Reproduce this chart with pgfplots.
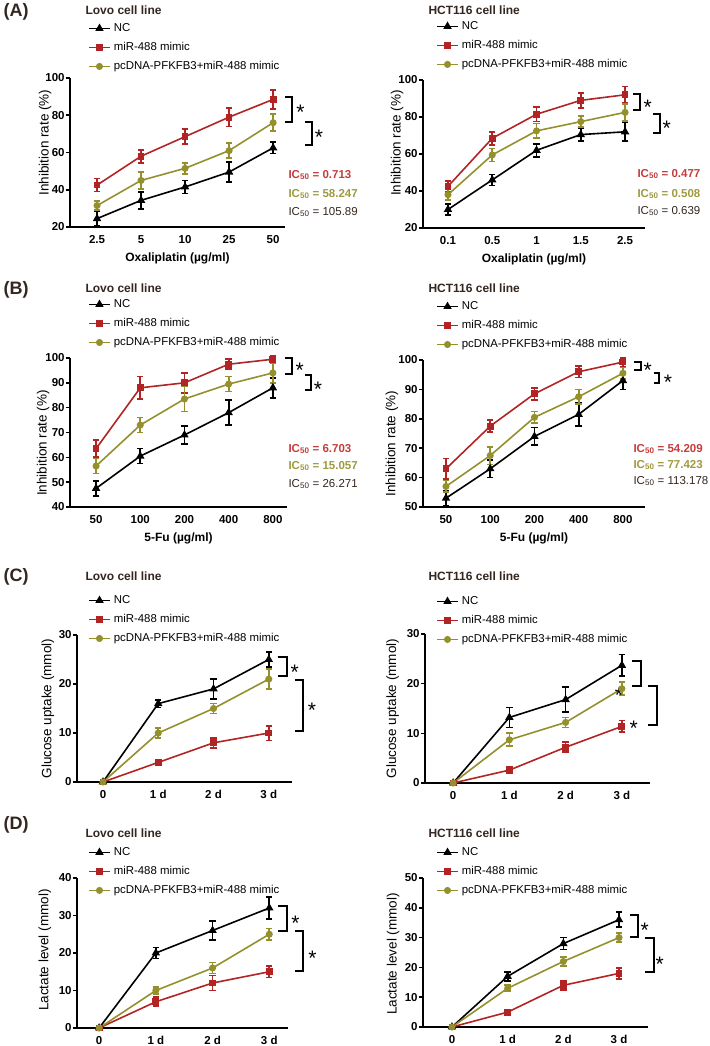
\documentclass[border=0pt]{standalone}
\usepackage{fontspec}
\setmainfont{Liberation Sans}
\usepackage{pgfplots}
\pgfplotsset{compat=1.18}
\definecolor{gpred}{RGB}{178,36,36}
\definecolor{gpolive}{RGB}{148,144,44}
\definecolor{txtred}{RGB}{196,60,60}
\definecolor{txtolive}{RGB}{158,154,62}
\definecolor{ttl}{RGB}{52,38,32}

\tikzset{
  brk/.style={line width=1.9pt, black},
  star/.style={anchor=base, yshift=-12pt, font=\fontsize{21}{21}\selectfont},
}
\pgfplotsset{
  eb/.style={error bars/.cd, y dir=both, y explicit,
    error bar style={line width=1.7pt, solid},
    error mark options={rotate=90, mark size=3.2pt, line width=1.7pt}},
  nc/.style={black, line width=1.6pt, mark=triangle*, mark size=3.3pt, eb},
  mir/.style={gpred, line width=1.6pt, mark=square*, mark size=2.6pt, eb},
  pc/.style={gpolive, line width=1.6pt, mark=*, mark size=2.7pt, eb},
  ylab/.style 2 args={every axis y label/.append style={at={(axis description cs:#1,#2)}, anchor=center}},
  gp/.style={
    scale only axis, clip=false, anchor=south west,
    axis x line=bottom, axis y line=left,
    axis line style={line width=1.9pt,-},
    every tick/.style={black,line width=1.6pt},
    xtick style={draw=none},
    tick align=outside, major tick length=4pt,
    xtick={0,1,2,3,4},
    tick label style={font=\fontsize{11.5}{13}\selectfont\bfseries},
    xticklabel style={yshift=-1pt},
    yticklabel style={inner xsep=1.2pt},
    /pgf/number format/assume math mode=true,
    ylabel style={font=\fontsize{13.5}{15}\selectfont},
    xlabel style={font=\fontsize{12}{14}\selectfont\bfseries, yshift=-2.5pt},
    legend cell align=left,
    legend style={draw=none, fill=none, anchor=north west, inner sep=0pt,
      font=\fontsize{11.4}{13}\selectfont,
      nodes={inner sep=0pt, text height=8pt, text depth=2.5pt},
      row sep=8.5pt, column sep=3pt},
    legend image code/.code={
      \draw[mark repeat=2,mark phase=2] plot coordinates {(0pt,0pt) (10.5pt,0pt) (21pt,0pt)};},
  },
}
\newcommand{\ttlfont}{\fontsize{12}{12}\selectfont\bfseries\color{ttl}}
\newcommand{\panfont}{\fontsize{18}{18}\selectfont\bfseries\color{ttl}}
\newcommand{\icfont}{\fontsize{11.5}{12}\selectfont}

\begin{document}
\begin{tikzpicture}
\useasboundingbox (0,0) rectangle (709pt,-1046pt);

% ---------------- (A) left
\begin{axis}[gp, at={(70pt,-227pt)}, width=215pt, height=149pt,
  xmin=-0.614, xmax=4.27, ymin=20, ymax=100, ytick={20,40,60,80,100},
  xticklabels={2.5,5,10,25,50}, xlabel={Oxaliplatin (µg/ml)}, ylabel={Inhibition rate (\%)},
  ylab={-0.116}{0.567},
  legend style={at={(0.0837,1.369)}}]
\addplot[nc] coordinates {(0,24.5) +- (0,4) (1,34.3) +- (0,4.5) (2,41.5) +- (0,3.5) (3,49.5) +- (0,5.5) (4,62.5) +- (0,3)};
\addplot[mir] coordinates {(0,42.5) +- (0,3.5) (1,58) +- (0,3.5) (2,68.5) +- (0,4) (3,79) +- (0,5) (4,88.5) +- (0,5)};
\addplot[pc] coordinates {(0,31.5) +- (0,2.5) (1,45) +- (0,4.5) (2,51.5) +- (0,3) (3,61) +- (0,4) (4,76) +- (0,4.5)};
\legend{NC, miR-488 mimic, pcDNA-PFKFB3+miR-488 mimic}
\draw[brk] (axis cs:4.27,89.8) -- (axis cs:4.43,89.8) -- (axis cs:4.43,76.4) -- (axis cs:4.27,76.4);
\node[star] at (axis cs:4.62,84) {*};
\draw[brk] (axis cs:4.73,76.4) -- (axis cs:4.89,76.4) -- (axis cs:4.89,64) -- (axis cs:4.73,64);
\node[star] at (axis cs:5.04,70.5) {*};
\end{axis}

% ---------------- (A) right
\begin{axis}[gp, at={(423pt,-228pt)}, width=222pt, height=148pt,
  xmin=-0.564, xmax=4.45, ymin=20, ymax=100, ytick={20,40,60,80,100},
  xticklabels={0.1,0.5,1,1.5,2.5}, xlabel={Oxaliplatin (µg/ml)}, ylabel={Inhibition rate (\%)},
  ylab={-0.117}{0.574},
  legend style={at={(0.0586,1.399)}}]
\addplot[nc] coordinates {(0,30) +- (0,3) (1,46) +- (0,3) (2,62) +- (0,3.5) (3,70.5) +- (0,3.5) (4,72) +- (0,5)};
\addplot[mir] coordinates {(0,42.5) +- (0,3) (1,68.5) +- (0,3.5) (2,81.5) +- (0,4) (3,89) +- (0,4) (4,92) +- (0,4.5)};
\addplot[pc] coordinates {(0,38) +- (0,3) (1,59.5) +- (0,3.5) (2,72.5) +- (0,4) (3,77.5) +- (0,3) (4,82.5) +- (0,4.5)};
\legend{NC, miR-488 mimic, pcDNA-PFKFB3+miR-488 mimic}
\draw[brk] (axis cs:4.18,92.4) -- (axis cs:4.33,92.4) -- (axis cs:4.33,83.8) -- (axis cs:4.18,83.8);
\node[star] at (axis cs:4.51,88) {*};
\draw[brk] (axis cs:4.63,81.6) -- (axis cs:4.79,81.6) -- (axis cs:4.79,71.4) -- (axis cs:4.63,71.4);
\node[star] at (axis cs:4.94,76.5) {*};
\end{axis}

% ---------------- (B) left
\begin{axis}[gp, at={(70pt,-507pt)}, width=217pt, height=149pt,
  xmin=-0.59, xmax=4.32, ymin=40, ymax=100, ytick={40,50,...,100},
  xticklabels={50,100,200,400,800}, xlabel={5-Fu (µg/ml)}, ylabel={Inhibition rate (\%)},
  ylab={-0.124}{0.43},
  legend style={at={(0.0829,1.396)}}]
\addplot[nc] coordinates {(0,47.5) +- (0,3) (1,60.5) +- (0,3) (2,69) +- (0,3.5) (3,78) +- (0,5) (4,88) +- (0,4)};
\addplot[mir] coordinates {(0,63.5) +- (0,3.5) (1,88) +- (0,4.5) (2,90) +- (0,4) (3,97.5) +- (0,2) (4,99.5) +- (0,1.5)};
\addplot[pc] coordinates {(0,56.5) +- (0,3) (1,73) +- (0,3) (2,83.5) +- (0,5) (3,89.5) +- (0,3) (4,94) +- (0,4)};
\legend{NC, miR-488 mimic, pcDNA-PFKFB3+miR-488 mimic}
\draw[brk] (axis cs:4.27,100.1) -- (axis cs:4.43,100.1) -- (axis cs:4.43,93.7) -- (axis cs:4.27,93.7);
\node[star] at (axis cs:4.61,96.8) {*};
\draw[brk] (axis cs:4.72,93.3) -- (axis cs:4.86,93.3) -- (axis cs:4.86,87) -- (axis cs:4.72,87);
\node[star] at (axis cs:5.02,89.5) {*};
\end{axis}

% ---------------- (B) right
\begin{axis}[gp, at={(423pt,-507pt)}, width=222pt, height=147pt,
  xmin=-0.52, xmax=4.5, ymin=50, ymax=100, ytick={50,60,...,100},
  xticklabels={50,100,200,400,800}, xlabel={5-Fu (µg/ml)}, ylabel={Inhibition rate (\%)},
  ylab={-0.14}{0.43},
  legend style={at={(0.0586,1.401)}}]
\addplot[nc] coordinates {(0,53) +- (0,2.5) (1,63) +- (0,3) (2,74) +- (0,3) (3,81.5) +- (0,4) (4,93) +- (0,3)};
\addplot[mir] coordinates {(0,63) +- (0,3.5) (1,77.5) +- (0,2) (2,88.5) +- (0,2) (3,96) +- (0,2) (4,99.3) +- (0,1.5)};
\addplot[pc] coordinates {(0,57) +- (0,2) (1,67.5) +- (0,3) (2,80.5) +- (0,2) (3,87.5) +- (0,2.5) (4,95.5) +- (0,2)};
\legend{NC, miR-488 mimic, pcDNA-PFKFB3+miR-488 mimic}
\draw[brk] (axis cs:4.25,99.4) -- (axis cs:4.41,99.4) -- (axis cs:4.41,96.6) -- (axis cs:4.25,96.6);
\node[star] at (axis cs:4.56,98.3) {*};
\draw[brk] (axis cs:4.70,95.5) -- (axis cs:4.81,95.5) -- (axis cs:4.81,92.3) -- (axis cs:4.70,92.3);
\node[star] at (axis cs:5.02,93.9) {*};
\end{axis}

% ---------------- (C) left
\begin{axis}[gp, at={(77pt,-782pt)}, width=215pt, height=147pt,
  xmin=-0.47, xmax=3.42, ymin=0, ymax=30, ytick={0,10,20,30},
  xticklabels={0,1 d,2 d,3 d}, ylabel={Glucose uptake (mmol)},
  ylab={-0.135}{0.5},
  legend style={at={(0.0512,1.272)}}]
\addplot[nc] coordinates {(0,0) (1,16) +- (0,0.8) (2,19) +- (0,2) (3,25) +- (0,1.5)};
\addplot[mir] coordinates {(0,0) (1,4) +- (0,0.5) (2,8) +- (0,1) (3,10) +- (0,1.5)};
\addplot[pc] coordinates {(0,0) (1,10) +- (0,1) (2,15) +- (0,1) (3,21) +- (0,2)};
\legend{NC, miR-488 mimic, pcDNA-PFKFB3+miR-488 mimic}
\draw[brk] (axis cs:3.16,25.6) -- (axis cs:3.33,25.6) -- (axis cs:3.33,21.6) -- (axis cs:3.16,21.6);
\node[star] at (axis cs:3.47,23.3) {*};
\draw[brk] (axis cs:3.47,20.9) -- (axis cs:3.62,20.9) -- (axis cs:3.62,10.4) -- (axis cs:3.47,10.4);
\node[star] at (axis cs:3.78,15.7) {*};
\end{axis}

% ---------------- (C) right
\begin{axis}[gp, at={(425pt,-783pt)}, width=225pt, height=149pt,
  xmin=-0.5, xmax=3.5, ymin=0, ymax=30, ytick={0,10,20,30},
  xticklabels={0,1 d,2 d,3 d}, ylabel={Glucose uptake (mmol)},
  ylab={-0.144}{0.5},
  legend style={at={(0.0489,1.255)}}]
\addplot[nc] coordinates {(0,0) (1,13.2) +- (0,2) (2,16.8) +- (0,2.5) (3,23.7) +- (0,2.2)};
\addplot[mir] coordinates {(0,0) (1,2.6) +- (0,0.7) (2,7.2) +- (0,1) (3,11.4) +- (0,1.2)};
\addplot[pc] coordinates {(0,0) (1,8.7) +- (0,1.3) (2,12.2) +- (0,1) (3,19) +- (0,1.3)};
\legend{NC, miR-488 mimic, pcDNA-PFKFB3+miR-488 mimic}
\draw[brk] (axis cs:3.18,24.5) -- (axis cs:3.34,24.5) -- (axis cs:3.34,19.6) -- (axis cs:3.18,19.6);
\node[star] at (axis cs:2.95,18.7) {*};
\draw[brk] (axis cs:3.46,19.6) -- (axis cs:3.62,19.6) -- (axis cs:3.62,11.7) -- (axis cs:3.46,11.7);
\node[star] at (axis cs:3.21,11.9) {*};
\end{axis}

% ---------------- (D) left
\begin{axis}[gp, at={(77pt,-1028pt)}, width=211pt, height=150pt,
  xmin=-0.39, xmax=3.33, ymin=0, ymax=40, ytick={0,10,20,30,40},
  xticklabels={0,1 d,2 d,3 d}, ylabel={Lactate level (mmol)},
  ylab={-0.152}{0.52},
  legend style={at={(0.0521,1.207)}}]
\addplot[nc] coordinates {(0,0) (1,20) +- (0,1.5) (2,26) +- (0,2.5) (3,32) +- (0,3)};
\addplot[mir] coordinates {(0,0) (1,7) +- (0,1.2) (2,12) +- (0,2) (3,15) +- (0,1.5)};
\addplot[pc] coordinates {(0,0) (1,10) +- (0,1) (2,16) +- (0,1.5) (3,25) +- (0,1.5)};
\legend{NC, miR-488 mimic, pcDNA-PFKFB3+miR-488 mimic}
\draw[brk] (axis cs:3.16,32.5) -- (axis cs:3.32,32.5) -- (axis cs:3.32,25.9) -- (axis cs:3.16,25.9);
\node[star] at (axis cs:3.46,29.3) {*};
\draw[brk] (axis cs:3.46,25.9) -- (axis cs:3.60,25.9) -- (axis cs:3.60,15.3) -- (axis cs:3.46,15.3);
\node[star] at (axis cs:3.76,20) {*};
\end{axis}

% ---------------- (D) right
\begin{axis}[gp, at={(423pt,-1027pt)}, width=225pt, height=149pt,
  xmin=-0.52, xmax=3.52, ymin=0, ymax=50, ytick={0,10,20,30,40,50},
  xticklabels={0,1 d,2 d,3 d}, ylabel={Lactate level (mmol)},
  ylab={-0.133}{0.49},
  legend style={at={(0.0578,1.208)}}]
\addplot[nc] coordinates {(0,0) (1,17) +- (0,1.5) (2,28) +- (0,2) (3,36) +- (0,2.5)};
\addplot[mir] coordinates {(0,0) (1,5) +- (0,0.8) (2,14) +- (0,1.5) (3,18) +- (0,1.8)};
\addplot[pc] coordinates {(0,0) (1,13) +- (0,1) (2,22) +- (0,1.5) (3,30) +- (0,1.5)};
\legend{NC, miR-488 mimic, pcDNA-PFKFB3+miR-488 mimic}
\draw[brk] (axis cs:3.20,37.6) -- (axis cs:3.34,37.6) -- (axis cs:3.34,30.3) -- (axis cs:3.20,30.3);
\node[star] at (axis cs:3.46,33.9) {*};
\draw[brk] (axis cs:3.46,29.8) -- (axis cs:3.63,29.8) -- (axis cs:3.63,18.4) -- (axis cs:3.46,18.4);
\node[star] at (axis cs:3.73,22.5) {*};
\end{axis}

% ---------------- panel letters and titles
\node[anchor=base west, font=\panfont] at (0pt,-16.5pt) {(A)};
\node[anchor=base west, font=\panfont] at (0pt,-294.5pt) {(B)};
\node[anchor=base west, font=\panfont] at (0pt,-581.5pt) {(C)};
\node[anchor=base west, font=\panfont] at (0pt,-829.5pt) {(D)};
\node[anchor=base west, font=\ttlfont] at (82pt,-14.3pt) {Lovo cell line};
\node[anchor=base west, font=\ttlfont] at (425pt,-14.3pt) {HCT116 cell line};
\node[anchor=base west, font=\ttlfont] at (82pt,-292.3pt) {Lovo cell line};
\node[anchor=base west, font=\ttlfont] at (425pt,-292.3pt) {HCT116 cell line};
\node[anchor=base west, font=\ttlfont] at (82pt,-580.3pt) {Lovo cell line};
\node[anchor=base west, font=\ttlfont] at (425pt,-580.3pt) {HCT116 cell line};
\node[anchor=base west, font=\ttlfont] at (82pt,-837.3pt) {Lovo cell line};
\node[anchor=base west, font=\ttlfont] at (425pt,-837.3pt) {HCT116 cell line};

% ---------------- IC50 annotations
\node[anchor=base west, font=\icfont\bfseries, text=txtred] at (285pt,-178pt) {IC\textsubscript{50} = 0.713};
\node[anchor=base west, font=\icfont\bfseries, text=txtolive] at (285pt,-197pt) {IC\textsubscript{50} = 58.247};
\node[anchor=base west, font=\icfont, text=ttl] at (285pt,-215pt) {IC\textsubscript{50} = 105.89};
\node[anchor=base west, font=\icfont\bfseries, text=txtred] at (634pt,-177pt) {IC\textsubscript{50} = 0.477};
\node[anchor=base west, font=\icfont\bfseries, text=txtolive] at (634pt,-197pt) {IC\textsubscript{50} = 0.508};
\node[anchor=base west, font=\icfont, text=ttl] at (634pt,-214pt) {IC\textsubscript{50} = 0.639};
\node[anchor=base west, font=\icfont\bfseries, text=txtred] at (285pt,-452pt) {IC\textsubscript{50} = 6.703};
\node[anchor=base west, font=\icfont\bfseries, text=txtolive] at (285pt,-469pt) {IC\textsubscript{50} = 15.057};
\node[anchor=base west, font=\icfont, text=ttl] at (285pt,-487pt) {IC\textsubscript{50} = 26.271};
\node[anchor=base west, font=\icfont\bfseries, text=txtred] at (630pt,-452pt) {IC\textsubscript{50} = 54.209};
\node[anchor=base west, font=\icfont\bfseries, text=txtolive] at (630pt,-468pt) {IC\textsubscript{50} = 77.423};
\node[anchor=base west, font=\icfont, text=ttl] at (630pt,-484pt) {IC\textsubscript{50} = 113.178};
\end{tikzpicture}
\end{document}
